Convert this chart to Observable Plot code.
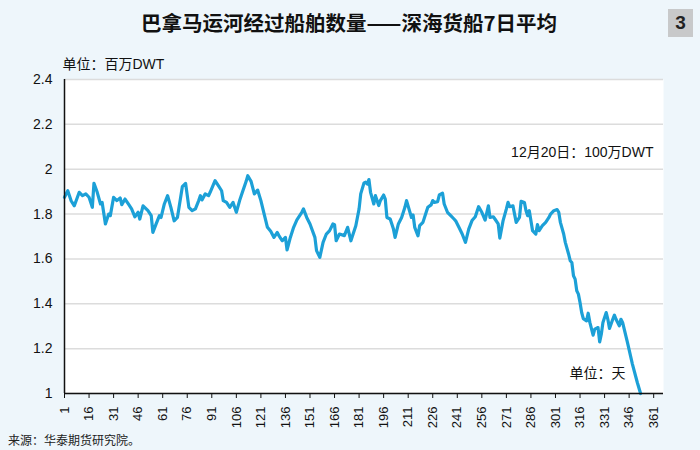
<!DOCTYPE html>
<html>
<head>
<meta charset="utf-8">
<script src="https://cdn.jsdelivr.net/npm/d3@7"></script>
<script src="https://cdn.jsdelivr.net/npm/@observablehq/plot@0.6"></script>
<style>
  html, body { margin: 0; padding: 0; }
  body { width: 700px; height: 450px; overflow: hidden; position: relative; background: #eef6fb;
         font-family: "Liberation Sans", "Noto Sans CJK SC", sans-serif; }
  #title { position: absolute; left: 0; top: 8px; width: 698px; text-align: center;
           font-family: "Noto Sans CJK SC", sans-serif; font-weight: 700; font-size: 20.5px; color: #111; line-height: 28px; }
  #badge { position: absolute; left: 668px; top: 9px; width: 25px; height: 28px; background: #c8c9ca;
           font-family: "Liberation Sans", sans-serif; font-weight: 700; font-size: 19px; color: #222;
           text-align: center; line-height: 28px; }
  #chart { position: absolute; left: 0; top: 50px; }
  #source { position: absolute; left: 8px; top: 431px; font-family: "Noto Sans CJK SC", serif; font-size: 12px; color: #222; }
</style>
</head>
<body>
<div id="title"></div>
<div id="badge"></div>
<div id="chart"></div>
<div id="source"></div>
<script>
// ---- data ----
const titleText = "巴拿马运河经过船舶数量——深海货船7日平均";
const badgeText = "3";
const sourceText = "来源：华泰期货研究院。";
const unitY = "单位：百万DWT";
const unitX = "单位：天";
const annotation = "12月20日：100万DWT";

const days = [
  1,3,5,7,10,12,14,16,18,19,21,23,24,26,28,29,31,33,35,36,38,40,42,44,46,47,49,52,54,55,57,59,60,62,64,66,68,70,71,73,75,77,79,81,83,84,85,87,89,90,93,95,97,98,100,102,104,106,108,110,112,113,115,117,119,121,123,125,127,129,131,132,134,136,137,139,141,143,144,146,147,149,151,154,155,157,159,161,163,165,166,167,169,172,174,176,
  179,181,182,184,185,186,187,188,190,191,193,194,196,197,198,200,202,203,205,207,209,210,213,214,215,217,218,220,222,223,225,226,227,229,230,232,233,235,237,239,240,242,244,246,248,250,252,254,256,258,260,261,263,264,266,267,269,271,272,273,275,276,277,279,280,282,283,284,285,287,289,290,291,293,295,297,
  298,300,302,303,304,306,307,309,310,311,312,313,314,315,316,317,318,320,321,322,324,325,327,328,329,330,332,333,334,336,337,338,340,341,342,345,348,351,353
];
const values = [
  1.875,1.904,1.860,1.837,1.897,1.882,1.890,1.875,1.830,1.937,1.897,1.845,1.852,1.756,1.800,1.793,1.875,1.860,1.872,1.842,1.867,1.845,1.823,1.788,1.808,1.778,1.837,1.815,1.793,1.718,1.756,1.793,1.785,1.845,1.882,1.830,1.770,1.785,1.830,1.922,1.937,1.830,1.815,1.823,1.860,1.882,1.863,1.890,1.882,1.897,1.949,1.927,1.904,1.860,1.852,1.830,1.852,1.808,1.860,1.904,1.946,1.971,1.946,1.890,1.907,1.860,1.800,1.741,1.723,1.696,1.718,1.704,1.681,1.696,1.640,1.696,1.741,1.774,1.785,1.808,1.823,1.785,1.756,1.696,1.637,1.607,1.674,1.711,1.726,1.756,1.753,1.681,1.711,1.704,1.741,1.681,
  1.748,1.823,1.890,1.939,1.942,1.934,1.954,1.897,1.845,1.882,1.838,1.860,1.885,1.867,1.785,1.778,1.733,1.696,1.756,1.785,1.830,1.860,1.785,1.796,1.741,1.703,1.748,1.763,1.808,1.830,1.841,1.860,1.852,1.855,1.885,1.893,1.845,1.808,1.793,1.778,1.770,1.741,1.711,1.674,1.733,1.771,1.788,1.833,1.808,1.773,1.837,1.785,1.788,1.778,1.756,1.693,1.771,1.823,1.852,1.833,1.837,1.800,1.763,1.785,1.857,1.852,1.815,1.793,1.815,1.726,1.711,1.753,1.726,1.748,1.763,1.785,
  1.800,1.815,1.820,1.808,1.763,1.711,1.674,1.622,1.592,1.584,1.525,1.510,1.458,1.443,1.406,1.361,1.334,1.324,1.358,1.317,1.260,1.287,1.294,1.230,1.264,1.317,1.361,1.331,1.290,1.331,1.349,1.331,1.302,1.331,1.317,1.227,1.131,1.049,1.000
];
const xTicks = [1,16,31,46,61,76,91,106,121,136,151,166,181,196,211,226,241,256,271,286,301,316,331,346,361];
const yTicks = [1,1.2,1.4,1.6,1.8,2,2.2,2.4];
const xDomain = [1, 367];

// ---- build ----
document.getElementById("title").textContent = titleText;
document.getElementById("badge").textContent = badgeText;
document.getElementById("source").textContent = sourceText;

const data = days.map((d, i) => ({day: d, value: values[i]}));
const cjk = "Liberation Sans, Noto Sans CJK SC, sans-serif";

const chart = Plot.plot({
  width: 700,
  height: 375,
  marginTop: 29,
  marginRight: 37,
  marginBottom: 32,
  marginLeft: 64,
  style: {background: "transparent", fontFamily: "Liberation Sans, sans-serif", color: "#111", overflow: "visible"},
  x: {domain: xDomain},
  y: {domain: [yTicks[0], yTicks[yTicks.length - 1]]},
  marks: [
    Plot.frame({fill: "white", stroke: null}),
    Plot.gridY(yTicks, {stroke: "#dcdcdc", strokeOpacity: 1, strokeWidth: 1.5}),
    Plot.line(data, {x: "day", y: "value", stroke: "#1ca0d7", strokeWidth: 3.2, strokeLinejoin: "round", strokeLinecap: "round"}),
    Plot.ruleX([xDomain[0]], {stroke: "#111", strokeWidth: 1.5}),
    Plot.ruleY([yTicks[0]], {stroke: "#111", strokeWidth: 1.5}),
    Plot.axisY(yTicks, {tickSize: 0, tickPadding: 12, fontSize: 14, label: null, tickFormat: d => String(+d.toFixed(1))}),
    Plot.axisX(xTicks, {tickSize: 5, tickPadding: 8, tickRotate: -90, fontSize: 13, label: null, stroke: "#111"}),
    Plot.text([unitY], {text: d => d, frameAnchor: "top-left", textAnchor: "start", dx: -2, dy: -20, fontSize: 14, fontFamily: cjk, fill: "#111"}),
    Plot.text([annotation], {text: d => d, frameAnchor: "top-right", textAnchor: "end", dx: -10, dy: 68, fontSize: 14, fontFamily: cjk, fill: "#111"}),
    Plot.text([unitX], {text: d => d, frameAnchor: "bottom-right", textAnchor: "end", dx: -38, dy: -16, fontSize: 14, fontFamily: cjk, fill: "#111"})
  ]
});
document.getElementById("chart").appendChild(chart);
</script>
</body>
</html>
